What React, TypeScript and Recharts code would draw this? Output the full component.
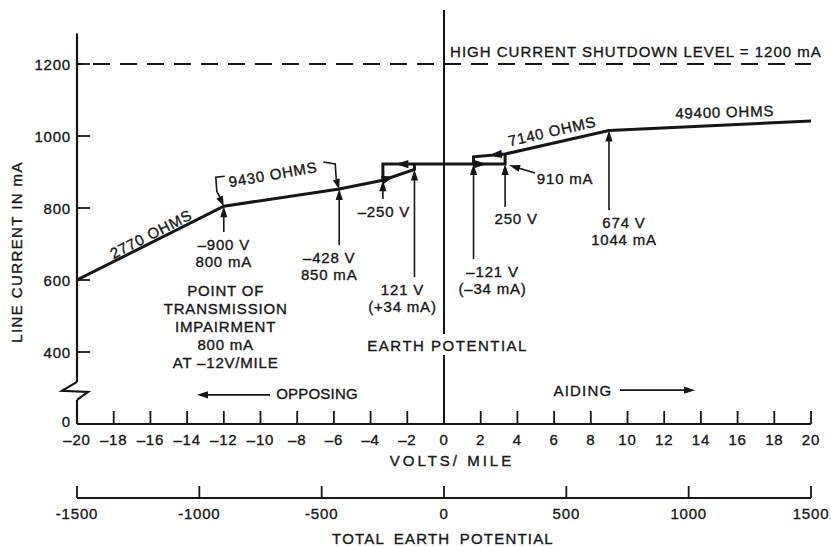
import {
  ComposedChart,
  Line,
  ReferenceDot,
  ReferenceLine,
  XAxis,
  YAxis
} from "recharts";

const INK = "#161616";
const FONT = '"Liberation Sans", Arial, Helvetica, sans-serif';

// 75 mile line: total earth potential = 75 x volts/mile
const voltTicks = [-20, -18, -16, -14, -12, -10, -8, -6, -4, -2, 0, 2, 4, 6, 8, 10, 12, 14, 16, 18, 20];
const potentialTicks = [-1500, -1000, -500, 0, 500, 1000, 1500];
// axis is broken under 400 mA, the 200 slot carries the "0"
const currentTicks = [200, 400, 600, 800, 1000, 1200];

const rising = [
  { v: -20, ma: 600 },
  { v: -12, ma: 805 },
  { v: -5.71, ma: 853 },
  { v: -3.33, ma: 877 },
  { v: -1.61, ma: 907 },
  { v: -1.61, ma: 922 }
];
const plateau = [
  { v: -3.33, ma: 877 },
  { v: -3.33, ma: 922 },
  { v: 3.33, ma: 922 },
  { v: 3.33, ma: 950 }
];
const upper = [
  { v: 1.61, ma: 922 },
  { v: 1.61, ma: 942 },
  { v: 3.33, ma: 950 },
  { v: 8.99, ma: 1015 },
  { v: 20, ma: 1042 }
];

// arrows that show which way the operating point moves
const flowArrows = [
  { v: -2.7, ma: 888, angle: -17 },
  { v: -2.65, ma: 922, angle: 180 },
  { v: 2.35, ma: 922, angle: 0 },
  { v: 2.45, ma: 946, angle: 173 }
];

const callouts = [
  { v: -12, tip: 805, tail: 733, lines: ["–900 V", "800 mA"], dx: 0 },
  { v: -5.71, tip: 853, tail: 697, lines: ["–428 V", "850 mA"], dx: -10 },
  { v: -3.33, tip: 877, tail: 825, lines: ["–250 V"], dx: 1 },
  { v: -1.61, tip: 907, tail: 608, lines: ["121 V", "(+34 mA)"], dx: -12 },
  { v: 1.61, tip: 922, tail: 658, lines: ["–121 V", "(–34 mA)"], dx: 19 },
  { v: 3.33, tip: 922, tail: 803, lines: ["250 V"], dx: 11 },
  { v: 8.99, tip: 1015, tail: 794, lines: ["674 V", "1044 mA"], dx: 15 }
];

const notes = [
  { v: -15.97, ma: 728, text: "2770 OHMS", angle: -27, ls: 0.8 },
  { v: -9.32, ma: 894, text: "9430 OHMS", angle: -10, ls: 0.8 },
  { v: 5.89, ma: 1014, text: "7140 OHMS", angle: -13, ls: 0.8 },
  { v: 15.3, ma: 1067, text: "49400 OHMS", angle: -1.5, ls: 0.8 },
  { v: 10.46, ma: 1236, text: "HIGH CURRENT SHUTDOWN LEVEL = 1200 mA", angle: 0, ls: 1 },
  { v: 0.2, ma: 419, text: "EARTH POTENTIAL", angle: 0, ls: 1.5 },
  { v: -6.92, ma: 286, text: "OPPOSING", angle: 0, ls: 0.2 },
  { v: 7.57, ma: 294, text: "AIDING", angle: 0, ls: 1.2 },
  { v: 6.6, ma: 883, text: "910 mA", angle: 0, ls: 0.8 }
];

const impairment = ["POINT OF", "TRANSMISSION", "IMPAIRMENT", "800 mA", "AT –12V/MILE"];

// anchor points that give the earth potential axis its scale
const potentialSpan = potentialTicks.map((p) => ({ p, ma: 200 }));

const txt = {
  fontFamily: FONT,
  fontSize: 15,
  fill: INK,
  stroke: INK,
  strokeWidth: 0.35,
  letterSpacing: 0.8
};

function Head({ x, y, angle, len = 11, half = 3.6 }: any) {
  return (
    <path
      d={`M0 0 L${-len} ${-half} L${-len} ${half} Z`}
      transform={`translate(${x} ${y}) rotate(${angle})`}
      fill={INK}
    />
  );
}

const arrowShape = (lines: string[] = [], dx = 0) => (p: any) => {
  const { x1, y1, x2, y2 } = p;
  const a = Math.atan2(y2 - y1, x2 - x1);
  return (
    <g>
      <line
        x1={x1}
        y1={y1}
        x2={x2 - Math.cos(a) * 8}
        y2={y2 - Math.sin(a) * 8}
        stroke={INK}
        strokeWidth={1.6}
      />
      <Head x={x2} y={y2} angle={(a * 180) / Math.PI} />
      {lines.map((t, i) => (
        <text key={t} x={x1 + dx} y={y1 + 12 + i * 17} textAnchor="middle" dominantBaseline="central" style={txt}>
          {t}
        </text>
      ))}
    </g>
  );
};

function VoltTick({ x, y, payload }: any) {
  const v = payload.value;
  return (
    <g>
      {v !== -20 && <line x1={x} x2={x} y1={y} y2={y - 13} stroke={INK} strokeWidth={1.8} />}
      <text x={x} y={y + 15} textAnchor="middle" dominantBaseline="central" style={txt}>
        {v < 0 ? `–${-v}` : v}
      </text>
    </g>
  );
}

function PotentialTick({ x, y, payload }: any) {
  return (
    <g>
      <line x1={x} x2={x} y1={y} y2={y - 12} stroke={INK} strokeWidth={1.8} />
      <text x={x} y={y + 15} textAnchor="middle" dominantBaseline="central" style={txt}>
        {payload.value}
      </text>
    </g>
  );
}

function CurrentTick({ x, y, payload }: any) {
  const v = payload.value;
  return (
    <g>
      {v !== 200 && <line x1={x} x2={x + 13} y1={y} y2={y} stroke={INK} strokeWidth={1.8} />}
      <text x={x - 6} y={v === 200 ? y - 3 : y} textAnchor="end" dominantBaseline="central" style={txt}>
        {v === 200 ? 0 : v}
      </text>
    </g>
  );
}

const lineProps = {
  dataKey: "ma",
  type: "linear" as const,
  stroke: INK,
  strokeWidth: 3,
  dot: false,
  activeDot: false,
  isAnimationActive: false
};

export default function App() {
  return (
    <div style={{ width: 831, height: 546, background: "#fff" }}>
      <style>{"body{margin:0}"}</style>
      <ComposedChart width={831} height={546} margin={{ top: 10, right: 20, bottom: 0, left: 0 }}>
        <XAxis
          dataKey="v"
          type="number"
          domain={[-20, 20]}
          ticks={voltTicks}
          interval={0}
          allowDataOverflow
          height={74}
          tickSize={0}
          tickMargin={0}
          tickLine={false}
          axisLine={{ stroke: INK, strokeWidth: 2.2 }}
          tick={(p: any) => <VoltTick {...p} />}
          label={{
            content: ({ viewBox }: any) => (
              <text
                x={viewBox.x + viewBox.width / 2 + 8}
                y={viewBox.y + 36}
                textAnchor="middle"
                dominantBaseline="central"
                style={{ ...txt, letterSpacing: 3 }}
              >
                VOLTS/ MILE
              </text>
            )
          }}
        />
        <XAxis
          xAxisId="ev"
          dataKey="p"
          type="number"
          domain={[-1500, 1500]}
          ticks={potentialTicks}
          interval={0}
          allowDataOverflow
          height={48}
          tickSize={0}
          tickMargin={0}
          tickLine={false}
          axisLine={{ stroke: INK, strokeWidth: 2.2 }}
          tick={(p: any) => <PotentialTick {...p} />}
          label={{
            content: ({ viewBox }: any) => (
              <text
                x={viewBox.x + viewBox.width / 2 - 1}
                y={viewBox.y + 40}
                textAnchor="middle"
                dominantBaseline="central"
                style={{ ...txt, letterSpacing: 1.2, wordSpacing: 4 }}
              >
                TOTAL EARTH POTENTIAL
              </text>
            )
          }}
        />
        <YAxis
          type="number"
          domain={[200, 1350]}
          ticks={currentTicks}
          interval={0}
          allowDataOverflow
          width={77}
          tickSize={0}
          tickMargin={0}
          tickLine={false}
          axisLine={false}
          tick={(p: any) => <CurrentTick {...p} />}
          label={{
            content: ({ viewBox }: any) => {
              const x = viewBox.x + 16;
              const y = viewBox.y + viewBox.height / 2 + 35;
              return (
                <text
                  x={x}
                  y={y}
                  transform={`rotate(-90 ${x} ${y})`}
                  textAnchor="middle"
                  dominantBaseline="central"
                  style={{ ...txt, letterSpacing: 1.4 }}
                >
                  LINE CURRENT IN mA
                </text>
              );
            }
          }}
        />

        {/* invisible series so the earth potential axis gets a scale */}
        <Line
          xAxisId="ev"
          data={potentialSpan}
          dataKey="ma"
          stroke="none"
          dot={false}
          activeDot={false}
          isAnimationActive={false}
        />

        {/* broken current axis */}
        <ReferenceLine segment={[{ x: -20, y: 200 }, { x: -20, y: 267 }]} stroke={INK} strokeWidth={2.2} />
        <ReferenceLine segment={[{ x: -20, y: 317 }, { x: -20, y: 1285 }]} stroke={INK} strokeWidth={2.2} />
        <ReferenceDot
          x={-20}
          y={292}
          shape={({ cx, cy }: any) => (
            <path
              d={`M${cx} ${cy - 9} L${cx - 15} ${cy} L${cx + 11} ${cy + 1} L${cx} ${cy + 9}`}
              fill="none"
              stroke={INK}
              strokeWidth={2.2}
            />
          )}
        />

        {/* earth potential axis, gap for its caption */}
        <ReferenceLine segment={[{ x: 0, y: 200 }, { x: 0, y: 392 }]} stroke={INK} strokeWidth={2} />
        <ReferenceLine segment={[{ x: 0, y: 450 }, { x: 0, y: 1350 }]} stroke={INK} strokeWidth={2} />

        <ReferenceLine y={1200} stroke={INK} strokeWidth={1.8} strokeDasharray="17 10" strokeDashoffset={-16} />

        <Line {...lineProps} data={rising} />
        <Line {...lineProps} data={plateau} />
        <Line {...lineProps} data={upper} />

        {flowArrows.map((f) => (
          <ReferenceDot
            key={`f${f.v}`}
            x={f.v}
            y={f.ma}
            shape={({ cx, cy }: any) => <Head x={cx} y={cy} angle={f.angle} len={13} half={4.2} />}
          />
        ))}

        {callouts.map((c) => (
          <ReferenceLine
            key={`c${c.v}`}
            segment={[{ x: c.v, y: c.tail }, { x: c.v, y: c.tip }]}
            shape={arrowShape(c.lines, c.dx)}
          />
        ))}

        {/* 910 mA pointer and the two OPPOSING / AIDING arrows */}
        <ReferenceLine segment={[{ x: 4.96, y: 897 }, { x: 3.55, y: 919 }]} shape={arrowShape()} />
        <ReferenceLine segment={[{ x: -9.48, y: 281 }, { x: -13.46, y: 281 }]} shape={arrowShape()} />
        <ReferenceLine segment={[{ x: 9.59, y: 294 }, { x: 13.68, y: 294 }]} shape={arrowShape()} />

        {/* brackets around the 9430 ohm span */}
        <ReferenceDot
          x={-12}
          y={805}
          shape={({ cx, cy }: any) => (
            <g>
              <path
                d={`M${cx + 1} ${cy - 30} L${cx - 8} ${cy - 29} L${cx - 7} ${cy - 15} L${cx - 3} ${cy - 7}`}
                fill="none"
                stroke={INK}
                strokeWidth={1.6}
              />
              <Head x={cx} y={cy} angle={65} len={10} />
            </g>
          )}
        />
        <ReferenceDot
          x={-5.71}
          y={853}
          shape={({ cx, cy }: any) => (
            <g>
              <path
                d={`M${cx - 16} ${cy - 27} L${cx - 4} ${cy - 25} L${cx - 3} ${cy - 10} L${cx - 2} ${cy - 7}`}
                fill="none"
                stroke={INK}
                strokeWidth={1.6}
              />
              <Head x={cx} y={cy} angle={73} len={10} />
            </g>
          )}
        />

        {notes.map((n) => (
          <ReferenceDot
            key={n.text}
            x={n.v}
            y={n.ma}
            shape={({ cx, cy }: any) => (
              <text
                x={cx}
                y={cy}
                transform={n.angle ? `rotate(${n.angle} ${cx} ${cy})` : undefined}
                textAnchor="middle"
                dominantBaseline="central"
                style={{ ...txt, letterSpacing: n.ls }}
              >
                {n.text}
              </text>
            )}
          />
        ))}

        <ReferenceDot
          x={-11.9}
          y={572}
          shape={({ cx, cy }: any) => (
            <g>
              {impairment.map((t, i) => (
                <text key={t} x={cx} y={cy + i * 18.2} textAnchor="middle" dominantBaseline="central" style={txt}>
                  {t}
                </text>
              ))}
            </g>
          )}
        />
      </ComposedChart>
    </div>
  );
}
